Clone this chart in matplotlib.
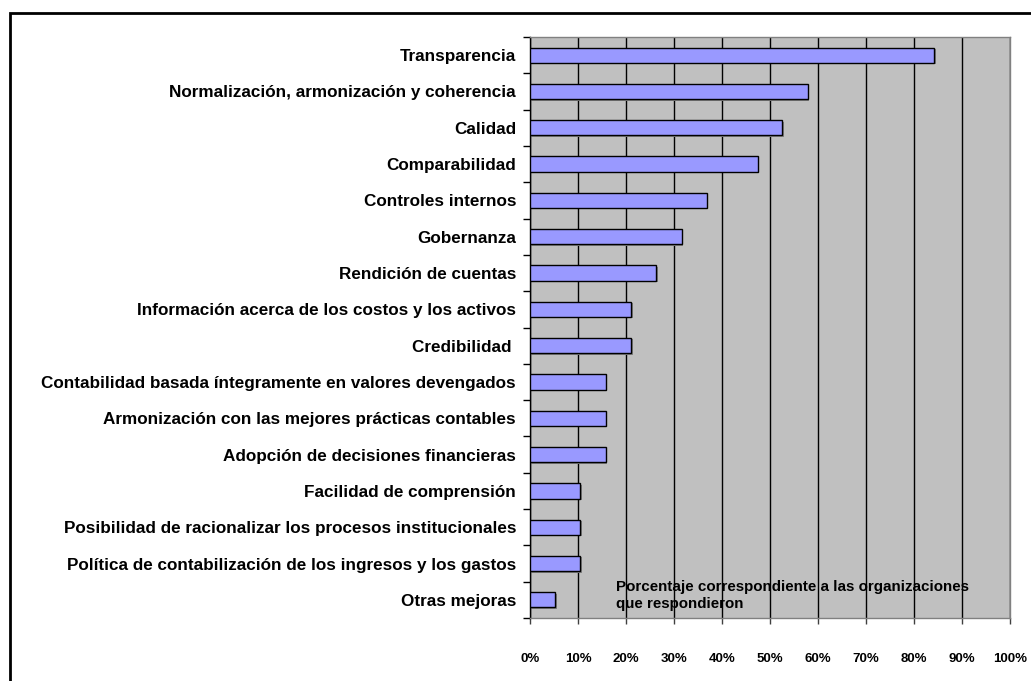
import matplotlib
matplotlib.use("Agg")
import matplotlib.pyplot as plt
from matplotlib.patches import Rectangle
import numpy as np

categories = [
    "Transparencia",
    "Normalización, armonización y coherencia",
    "Calidad",
    "Comparabilidad",
    "Controles internos",
    "Gobernanza",
    "Rendición de cuentas",
    "Información acerca de los costos y los activos",
    "Credibilidad ",
    "Contabilidad basada íntegramente en valores devengados",
    "Armonización con las mejores prácticas contables",
    "Adopción de decisiones financieras",
    "Facilidad de comprensión",
    "Posibilidad de racionalizar los procesos institucionales",
    "Política de contabilización de los ingresos y los gastos",
    "Otras mejoras",
]
values = [84.2, 57.9, 52.6, 47.4, 36.8, 31.6, 26.3, 21.1, 21.1, 15.8, 15.8, 15.8, 10.5, 10.5, 10.5, 5.3]
xticks = [0, 10, 20, 30, 40, 50, 60, 70, 80, 90, 100]
xtick_labels = [f"{t}%" for t in xticks]
note = "Porcentaje correspondiente a las organizaciones\nque respondieron"

plt.rcParams['font.family'] = ['Liberation Sans', 'DejaVu Sans']

W, H = 1031, 681
fig = plt.figure(figsize=(W/100, H/100), dpi=100)
ax = fig.add_axes([530/W, 1-618/H, 480/W, (618-37)/H])

n = len(categories)
y = np.arange(n)
ax.set_facecolor("#C0C0C0")
# shadows
ax.barh(y + 0.04, values, height=0.42, left=0.3, color="#808080", edgecolor="none", zorder=2)
ax.barh(y, values, height=0.42, color="#9999FF", edgecolor="black", linewidth=1.0, zorder=3)

ax.set_xlim(0, 100)
ax.set_ylim(n - 0.5, -0.5)
ax.set_xticks(xticks)
ax.set_xticklabels(xtick_labels, fontsize=9.5, fontweight="bold")
ax.tick_params(axis="x", direction="out", length=4, width=1, pad=21, color="#404040")
ax.set_yticks(y)
ax.set_yticklabels(categories, fontsize=12.3, fontweight="bold")
ax.tick_params(axis="y", which="major", length=0, pad=10)
ax.set_yticks(np.arange(-0.5, n, 1), minor=True)
ax.tick_params(axis="y", which="minor", direction="out", length=5, width=1)
ax.grid(axis="x", color="black", linewidth=1, zorder=1)
ax.set_axisbelow(True)
for s in ["top", "right", "bottom"]:
    ax.spines[s].set_color("#808080")
    ax.spines[s].set_linewidth(1)
ax.spines["left"].set_color("black")
ax.spines["left"].set_linewidth(1)

ax.text(18, 14.88, note, fontsize=10.9, fontweight="bold", va="center", ha="left",
        linespacing=1.3, zorder=4)

fig.patches.append(Rectangle((10/W, -0.1), 1.1, (H-13)/H + 0.1, transform=fig.transFigure,
                             fill=False, edgecolor="black", linewidth=2))

fig.savefig("out.png", dpi=100)
